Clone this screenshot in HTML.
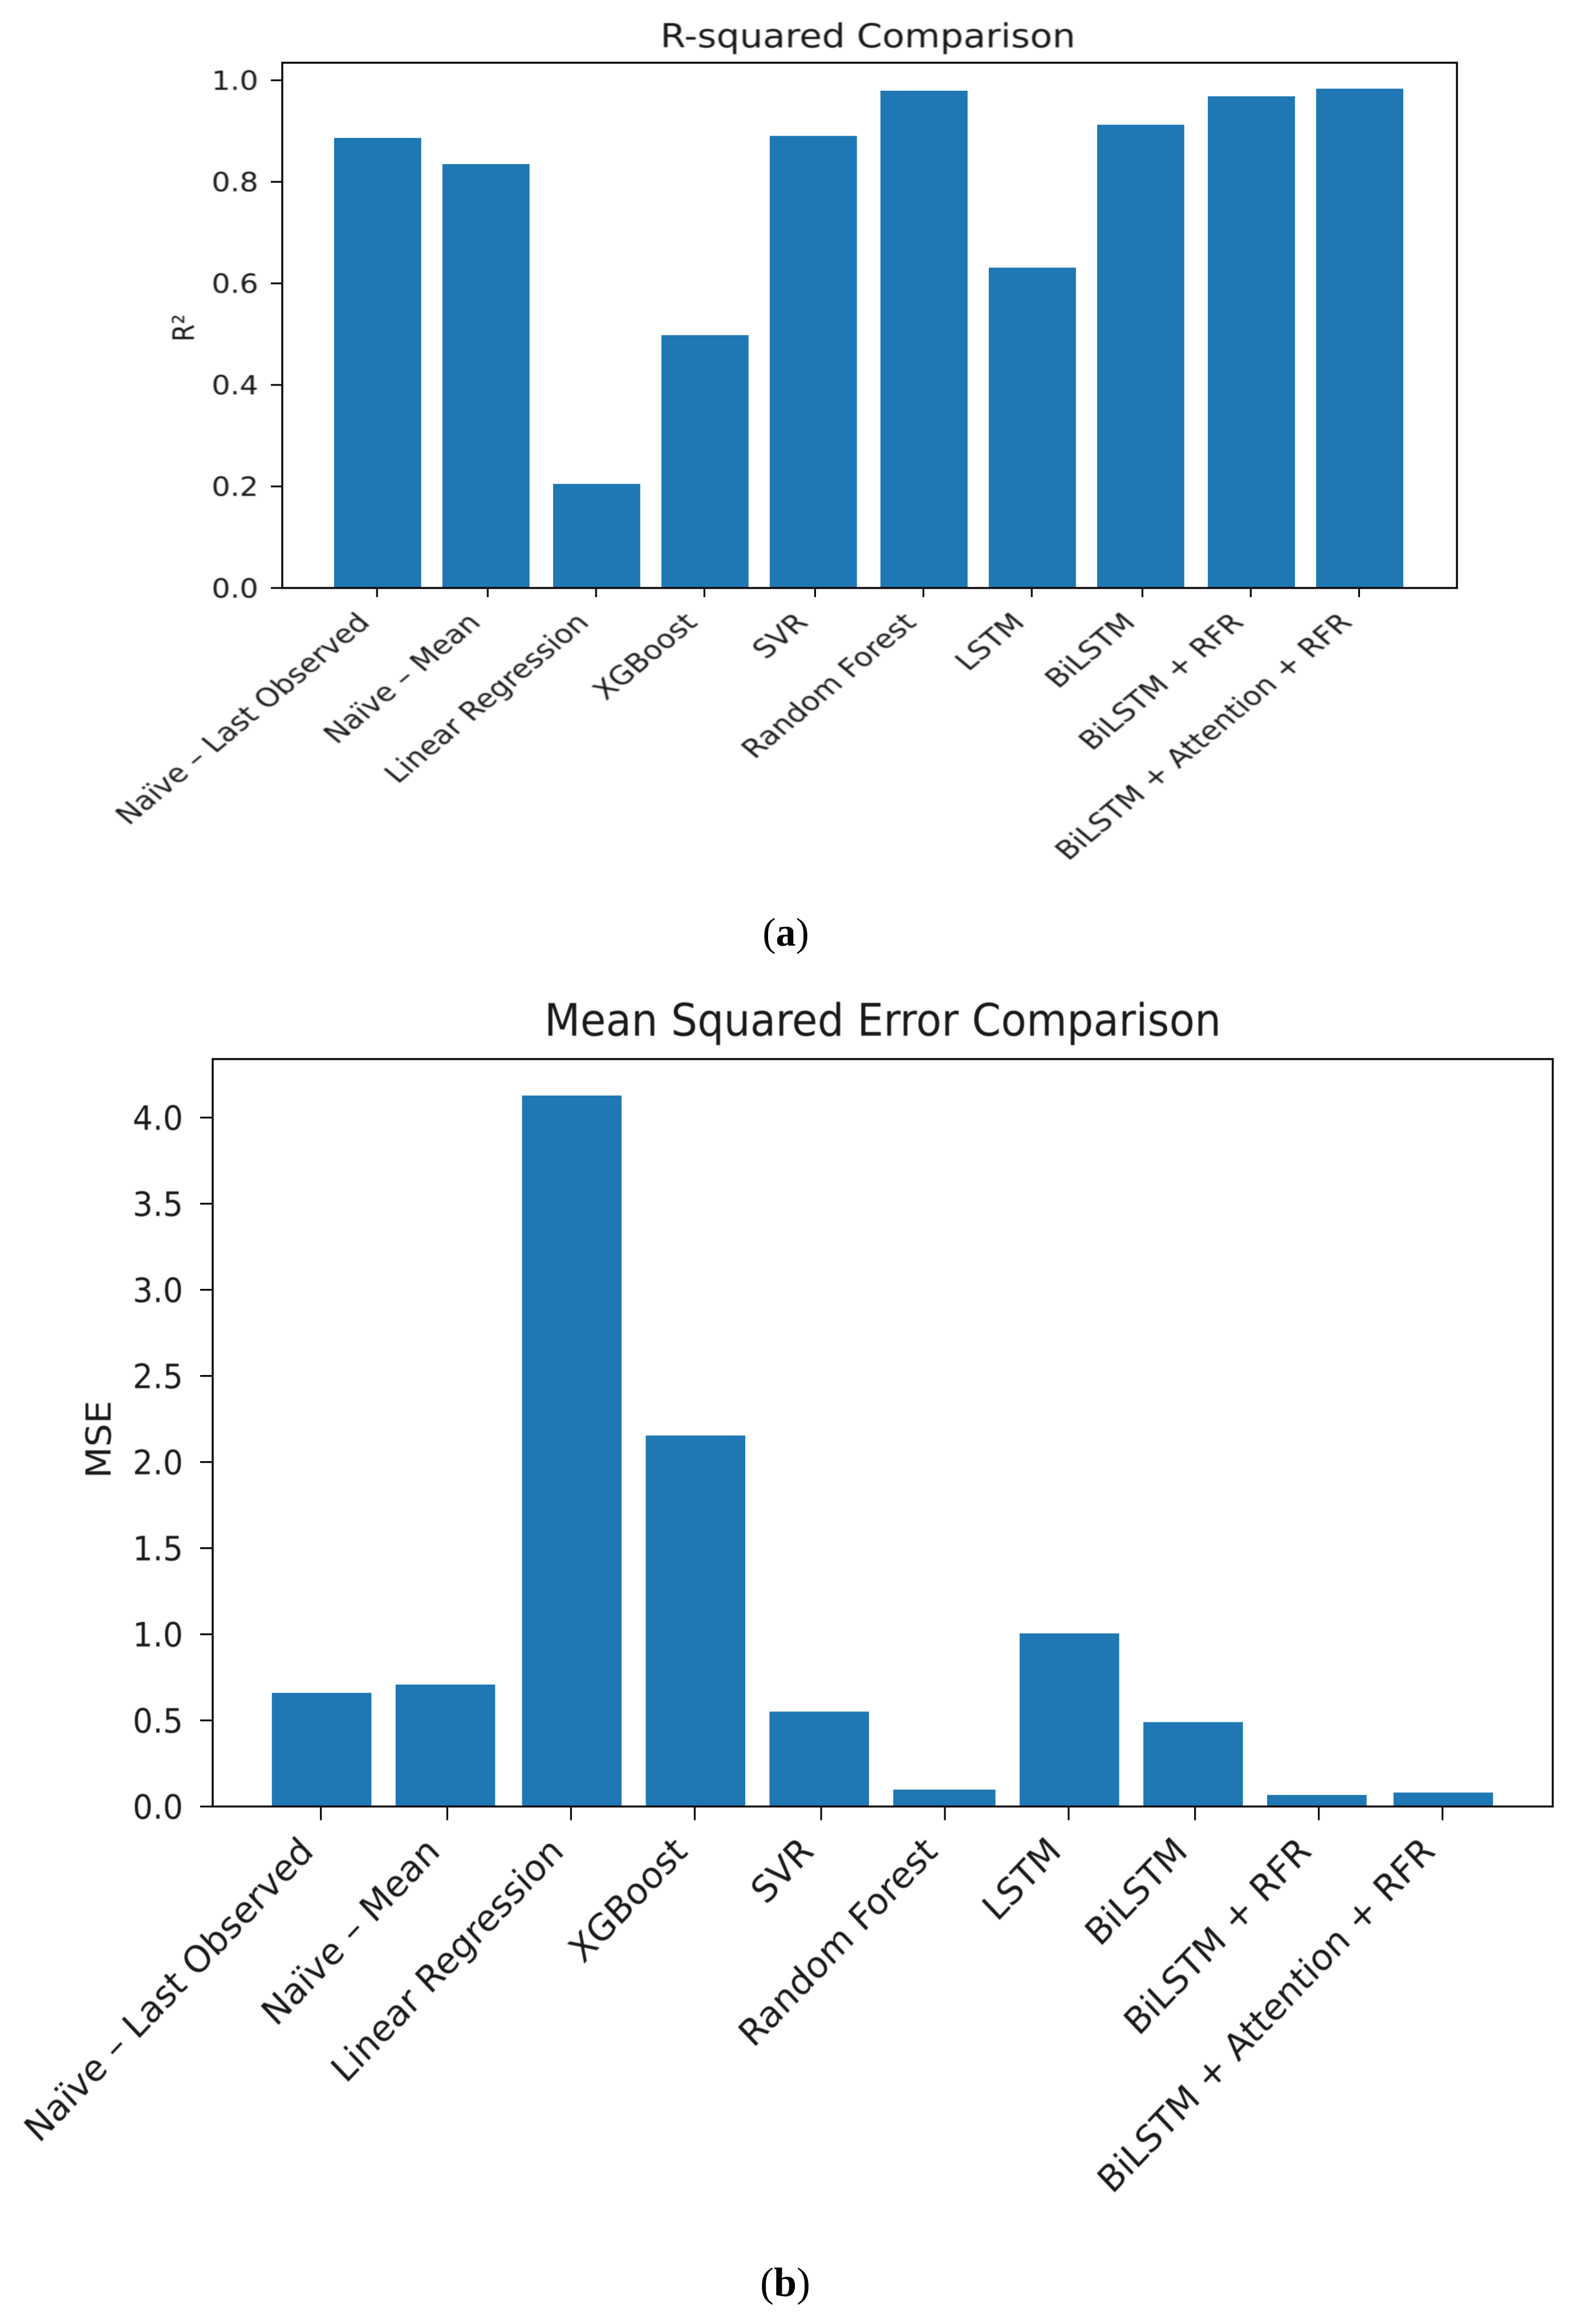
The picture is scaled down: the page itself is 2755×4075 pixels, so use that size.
<!DOCTYPE html>
<html lang="en">
<head>
<meta charset="utf-8">
<title>R-squared and MSE Comparison</title>
<style>
  html, body { margin: 0; padding: 0; background: #fff; }
  svg { display: block; }
  text { font-family: "DejaVu Sans", "Liberation Sans", sans-serif; fill: #1a1a1a; filter: blur(0.9px); }
  .caption { font-family: "Liberation Serif", serif; fill: #000; filter: none; }
</style>
</head>
<body>
<svg id="figure" xmlns="http://www.w3.org/2000/svg" width="2755" height="4075" viewBox="0 0 2755 4075">
  <rect x="0" y="0" width="2755" height="4075" fill="#ffffff"/>
  <g id="chart-a">
    <text transform="translate(1522 83) scale(1.105 1)" font-size="58" text-anchor="middle">R-squared Comparison</text>
    <text transform="translate(340 575) scale(1.18 1) rotate(-90)" font-size="44" text-anchor="middle">R²</text>
  </g>
  <text class="caption" x="1378" y="1658" font-size="70" text-anchor="middle">(<tspan font-weight="bold">a</tspan>)</text>
  <g id="chart-b">
    <text transform="translate(1548 1816) scale(0.936 1)" font-size="78" text-anchor="middle">Mean Squared Error Comparison</text>
    <text transform="translate(194 2524) scale(0.95 1) rotate(-90)" font-size="64" text-anchor="middle" fill="#333">MSE</text>
  </g>
  <text class="caption" x="1377" y="4026" font-size="72" text-anchor="middle">(<tspan font-weight="bold">b</tspan>)</text>
</svg>
<script>
const categories = ['Naïve – Last Observed', 'Naïve – Mean', 'Linear Regression', 'XGBoost', 'SVR', 'Random Forest', 'LSTM', 'BiLSTM', 'BiLSTM + RFR', 'BiLSTM + Attention + RFR'];
const r2Values = [0.8865, 0.835, 0.205, 0.498, 0.8905, 0.9795, 0.631, 0.9125, 0.9685, 0.9835];
const mseValues = [0.66, 0.708, 4.128, 2.154, 0.551, 0.098, 1.005, 0.49, 0.067, 0.081];
const r2Ticks = [0, 0.2, 0.4, 0.6, 0.8, 1.0];
const r2TickLabels = ['0.0', '0.2', '0.4', '0.6', '0.8', '1.0'];
const mseTicks = [0, 0.5, 1.0, 1.5, 2.0, 2.5, 3.0, 3.5, 4.0];
const mseTickLabels = ['0.0', '0.5', '1.0', '1.5', '2.0', '2.5', '3.0', '3.5', '4.0'];

const NS = 'http://www.w3.org/2000/svg';

function make(parent, tag, attrs) {
  const node = document.createElementNS(NS, tag);
  for (const k in attrs) node.setAttribute(k, attrs[k]);
  parent.appendChild(node);
  return node;
}

function drawChart(parent, values, ticks, tickLabels, L) {
  const xScale = i => L.x0 + L.unit * i;
  const yScale = v => L.yBase - L.yUnit * v;
  const snap = x => L.left + Math.round((x - L.left) / L.grid) * L.grid;

  values.forEach((v, i) => {
    const x1 = snap(xScale(i) - 0.4 * L.unit);
    const x2 = snap(xScale(i) + 0.4 * L.unit);
    const bar = make(parent, 'rect', { x: x1, y: yScale(v), width: x2 - x1, height: L.yBase - yScale(v), fill: '#1f77b4' });
    
    
  });

  const frame = make(parent, 'rect', { x: L.left, y: L.top, width: L.right - L.left, height: L.yBase - L.top, fill: 'none', stroke: '#0a0a0a', 'stroke-width': 3.5 });
  
  

  ticks.forEach((t, i) => {
    const y = yScale(t);
    const tick = make(parent, 'line', { x1: L.left - L.yTickLen, x2: L.left, y1: y, y2: y, stroke: '#0a0a0a', 'stroke-width': 3.2 });
    
    
    const label = make(parent, 'text', {
      transform: 'translate(' + L.yLabelRight + ' ' + (y + 0.3645 * L.tickFont) + ') scale(' + L.tickSx + ' 1)',
      'font-size': L.tickFont, 'text-anchor': 'end'
    });
    label.textContent = tickLabels[i];
    
    
  });

  categories.forEach((c, i) => {
    const x = snap(xScale(i)) + L.tickShift;
    const tick = make(parent, 'line', { x1: x, x2: x, y1: L.yBase, y2: L.yBase + L.xTickLen, stroke: '#0a0a0a', 'stroke-width': 3.2 });
    
    
    const label = make(parent, 'text', {
      transform: 'translate(' + (x + L.labelDx) + ' ' + (L.yBase + L.labelDy) + ') scale(' + L.labelSx + ' 1) rotate(-45)',
      'font-size': L.labelFont, 'text-anchor': 'end'
    });
    label.textContent = c;
    
    
  });
}

drawChart(document.getElementById('chart-a'), r2Values, r2Ticks, r2TickLabels, {
  left: 495, right: 2555, top: 110, yBase: 1031, x0: 662.2, unit: 191.35, grid: 4.13, yUnit: 890.2,
  tickSx: 1.12, labelSx: 1.2, tickFont: 46, labelFont: 44.8, yLabelRight: 453, yTickLen: 20, xTickLen: 16, tickShift: 1, labelDx: -10, labelDy: 63
});
drawChart(document.getElementById('chart-b'), mseValues, mseTicks, mseTickLabels, {
  left: 373, right: 2723, top: 1857, yBase: 3167.6, x0: 564, unit: 218.4, grid: 4.717, yUnit: 302,
  tickSx: 0.94, labelSx: 0.95, tickFont: 59, labelFont: 64.4, yLabelRight: 321, yTickLen: 22, xTickLen: 24, tickShift: 1, labelDx: -10, labelDy: 82
});
</script>
</body>
</html>
